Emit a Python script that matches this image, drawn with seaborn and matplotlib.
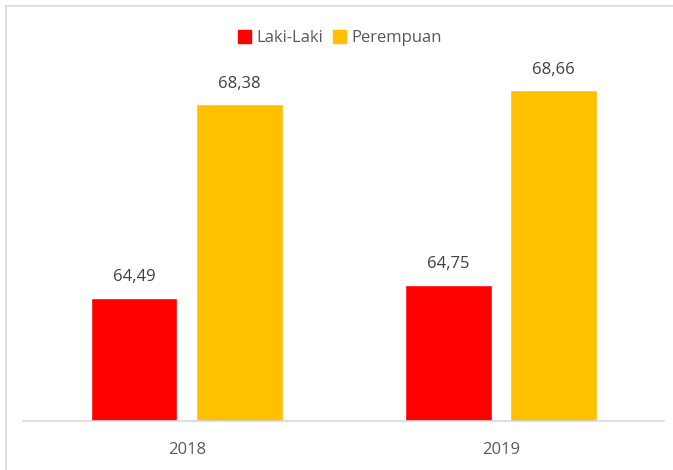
import pandas as pd
import seaborn as sns
import matplotlib.pyplot as plt
from matplotlib.patches import Rectangle

# Data
years = ['2018', '2019']
laki = [64.49, 64.75]
perempuan = [68.38, 68.66]
groups = ['Laki-Laki', 'Perempuan']
colors = ['#FF0000', '#FFC000']

df = pd.DataFrame({
    'Tahun': years * 2,
    'Nilai': laki + perempuan,
    'Jenis': [groups[0]] * len(years) + [groups[1]] * len(years),
})

sns.set_style('white')
plt.rcParams['font.family'] = ['Open Sans', 'DejaVu Sans']

fig = plt.figure(figsize=(6.73, 4.70), dpi=100)
ax = fig.add_axes([23 / 673, 0.104, 641 / 673, 0.845])

sns.barplot(data=df, x='Tahun', y='Nilai', hue='Jenis', palette=colors,
            width=0.669, gap=0.18, saturation=1, ax=ax, legend=False)

ax.set_ylim(62, 70)
ax.set_xlim(-0.522, 1.519)
ax.set_xlabel('')
ax.set_ylabel('')
ax.set_yticks([])
for s in ['top', 'right', 'left']:
    ax.spines[s].set_visible(False)
ax.spines['bottom'].set_color('#D9D9D9')
ax.spines['bottom'].set_linewidth(1.2)
ax.tick_params(axis='x', length=0, pad=15, labelsize=12, labelcolor='#595959')

# value labels with comma decimals
for cont in ax.containers:
    ax.bar_label(cont, labels=[f'{v:.2f}'.replace('.', ',') for v in cont.datavalues],
                 padding=9, fontsize=12, color='#404040')

# legend
handles = [Rectangle((0, 0), 1, 1, color=c) for c in colors]
fig.legend(handles, groups, loc='center', bbox_to_anchor=(0.505, 0.919), ncol=2,
           frameon=False, fontsize=12, labelcolor='#595959', handlelength=0.8,
           handleheight=0.8, handletextpad=0.3, columnspacing=0.6)

# chart border
fig.patches.append(Rectangle((6 / 673, -0.01), 1.0, 1 - 6 / 470 + 0.01,
                             transform=fig.transFigure, fill=False,
                             edgecolor='#D9D9D9', linewidth=1.2))

fig.savefig('out.png', dpi=100)
